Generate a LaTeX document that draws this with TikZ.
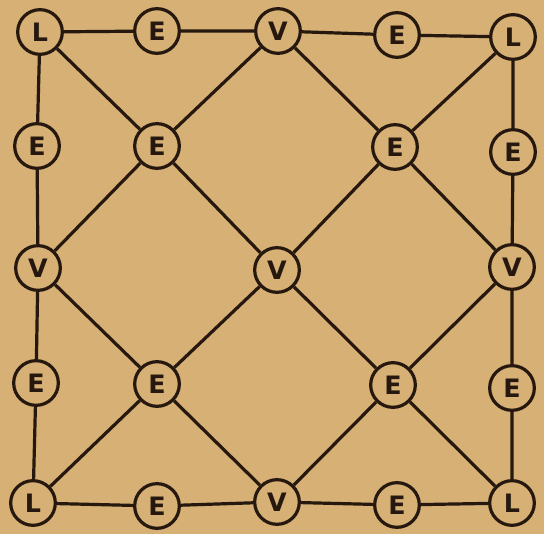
\documentclass[tikz,border=0pt]{standalone}
\usepackage{fontspec}
\setsansfont{DejaVu Sans}
\definecolor{paper}{RGB}{214,176,116}
\definecolor{ink}{RGB}{38,24,14}
\begin{document}
\begin{tikzpicture}[x=0.75pt,y=-0.75pt,
  vtx/.style={circle,draw=ink,fill=paper,line width=2.4pt,minimum size=33.5pt,inner sep=0pt,
    text=ink,font=\sffamily\bfseries\fontsize{19}{19}\selectfont},
  edge/.style={draw=ink,line width=2.4pt}]
\fill[paper] (0,0) rectangle (544,534);
\useasboundingbox (0,0) rectangle (544,534);
% row 1
\node[vtx] (l1) at (40,32) {L};
\node[vtx] (e1) at (157,31) {E};
\node[vtx] (v1) at (278,31) {V};
\node[vtx] (e2) at (397,35) {E};
\node[vtx] (l2) at (513,37) {L};
% row 2
\node[vtx] (e3) at (37,146) {E};
\node[vtx] (e4) at (157,146) {E};
\node[vtx] (e5) at (395,147) {E};
\node[vtx] (e6) at (513,152) {E};
% row 3
\node[vtx] (v2) at (38,268) {V};
\node[vtx] (v3) at (277,270) {V};
\node[vtx] (v4) at (512,267) {V};
% row 4
\node[vtx] (e7) at (36,383) {E};
\node[vtx] (e8) at (157,384) {E};
\node[vtx] (e9) at (393,385) {E};
\node[vtx] (e10) at (512,388) {E};
% row 5
\node[vtx] (l3) at (33,503) {L};
\node[vtx] (e11) at (157,506) {E};
\node[vtx] (v5) at (277,502) {V};
\node[vtx] (e12) at (397,505) {E};
\node[vtx] (l4) at (512,503) {L};
% edges
\path[edge] (l1)--(e1) (e1)--(v1) (v1)--(e2) (e2)--(l2);
\path[edge] (l3)--(e11) (e11)--(v5) (v5)--(e12) (e12)--(l4);
\path[edge] (l1)--(e3) (e3)--(v2) (v2)--(e7) (e7)--(l3);
\path[edge] (l2)--(e6) (e6)--(v4) (v4)--(e10) (e10)--(l4);
\path[edge] (l1)--(e4) (e4)--(v3) (v3)--(e9) (e9)--(l4);
\path[edge] (l2)--(e5) (e5)--(v3) (v3)--(e8) (e8)--(l3);
\path[edge] (v1)--(e4) (e4)--(v2) (v2)--(e8) (e8)--(v5);
\path[edge] (v1)--(e5) (e5)--(v4);
\path[edge] (v5)--(e9) (e9)--(v4);
\end{tikzpicture}
\end{document}
